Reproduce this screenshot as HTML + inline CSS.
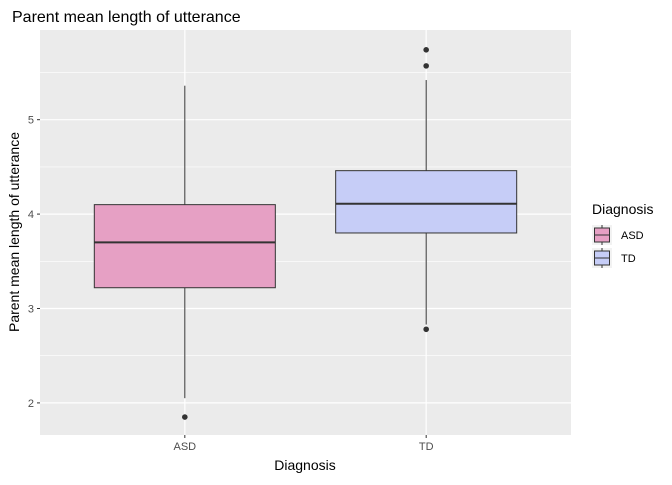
<!DOCTYPE html>
<html><head><meta charset="utf-8"><style>
body{margin:0;background:#fff;font-family:"Liberation Sans",Arial,sans-serif}
</style></head><body>
<svg id="chart" width="672" height="480" xmlns="http://www.w3.org/2000/svg">
<rect width="672" height="480" fill="#fff"/>
<text x="12" y="22" font-size="16" fill="#000">Parent mean length of utterance</text>
<rect x="40" y="30" width="531" height="405" fill="#EBEBEB"/>
<g id="grid"></g>
<g id="boxes"></g>
<g id="axes"></g>
<text x="305" y="470" font-size="14" text-anchor="middle">Diagnosis</text>
<text transform="translate(19,232) rotate(-90)" font-size="14" text-anchor="middle">Parent mean length of utterance</text>
<g id="legend">
<text x="592" y="214" font-size="14">Diagnosis</text>
</g>
</svg>
<script>
const categories=["ASD","TD"];
const fills=["#E6A0C4","#C6CDF7"];
const q1=[3.22,3.80];
const medians=[3.70,4.11];
const q3=[4.10,4.46];
const whiskerLow=[2.05,2.83];
const whiskerHigh=[5.36,5.42];
const outliers=[[1.85],[2.78,5.57,5.74]];
const yTicks=[2,3,4,5];
const ns="http://www.w3.org/2000/svg";
const X0=40,X1=571,Y0=30,Y1=435,ymin=1.66,ymax=5.95;
const y=v=>Y1-(v-ymin)/(ymax-ymin)*(Y1-Y0);
const unit=(X1-X0)/(categories.length-1+1.2);
const xc=i=>X0+unit*(0.6+i);
function mk(tag,attrs,parent){const e=document.createElementNS(ns,tag);for(const k in attrs)e.setAttribute(k,attrs[k]);document.getElementById(parent).appendChild(e);return e;}
const minors=[];
for(let i=0;i<yTicks.length-1;i++)minors.push((yTicks[i]+yTicks[i+1])/2);
minors.push(yTicks[yTicks.length-1]+0.5);
if(yTicks[0]-0.5>ymin)minors.push(yTicks[0]-0.5);
minors.forEach(m=>{const l=mk('line',{x1:X0,x2:X1,y1:y(m),y2:y(m),stroke:'#fff','stroke-width':0.6},'grid');});
yTicks.forEach(t=>{const l=mk('line',{x1:X0,x2:X1,y1:y(t),y2:y(t),stroke:'#fff','stroke-width':1.2},'grid');
const tk=mk('line',{x1:X0-3,x2:X0,y1:y(t),y2:y(t),stroke:'#333'},'axes');
const tx=mk('text',{x:X0-6,y:y(t)+4,'font-size':11,fill:'#4D4D4D','text-anchor':'end'},'axes');tx.textContent=t;});
categories.forEach((c,i)=>{const g=mk('line',{x1:xc(i),x2:xc(i),y1:Y0,y2:Y1,stroke:'#fff','stroke-width':1.2},'grid');
const tk=mk('line',{x1:xc(i),x2:xc(i),y1:Y1,y2:Y1+3,stroke:'#333'},'axes');
const tx=mk('text',{x:xc(i),y:Y1+15,'font-size':11,fill:'#4D4D4D','text-anchor':'middle'},'axes');tx.textContent=c;
const hw=unit*0.375;
const w1=mk('line',{x1:xc(i),x2:xc(i),y1:y(whiskerHigh[i]),y2:y(q3[i]),stroke:'#333'},'boxes');
const w2=mk('line',{x1:xc(i),x2:xc(i),y1:y(q1[i]),y2:y(whiskerLow[i]),stroke:'#333'},'boxes');
const b=mk('rect',{x:xc(i)-hw,y:y(q3[i]),width:2*hw,height:y(q1[i])-y(q3[i]),fill:fills[i],stroke:'#333'},'boxes');
const md=mk('line',{x1:xc(i)-hw,x2:xc(i)+hw,y1:y(medians[i]),y2:y(medians[i]),stroke:'#333','stroke-width':2},'boxes');
outliers[i].forEach(o=>{const p=mk('circle',{cx:xc(i),cy:y(o),r:2.8,fill:'#333'},'boxes');});
const ly=225+i*23;
const kb=mk('rect',{x:592,y:ly,width:20,height:20,fill:'#F2F2F2'},'legend');
const kl=mk('line',{x1:602,x2:602,y1:ly,y2:ly+20,stroke:'#333'},'legend');
const kr=mk('rect',{x:594.5,y:ly+3,width:15,height:14,fill:fills[i],stroke:'#333'},'legend');
const km=mk('line',{x1:594.5,x2:609.5,y1:ly+10,y2:ly+10,stroke:'#333'},'legend');
const lt=mk('text',{x:621,y:ly+14,'font-size':11,fill:'#000'},'legend');lt.textContent=c;
});
</script>
</body></html>
